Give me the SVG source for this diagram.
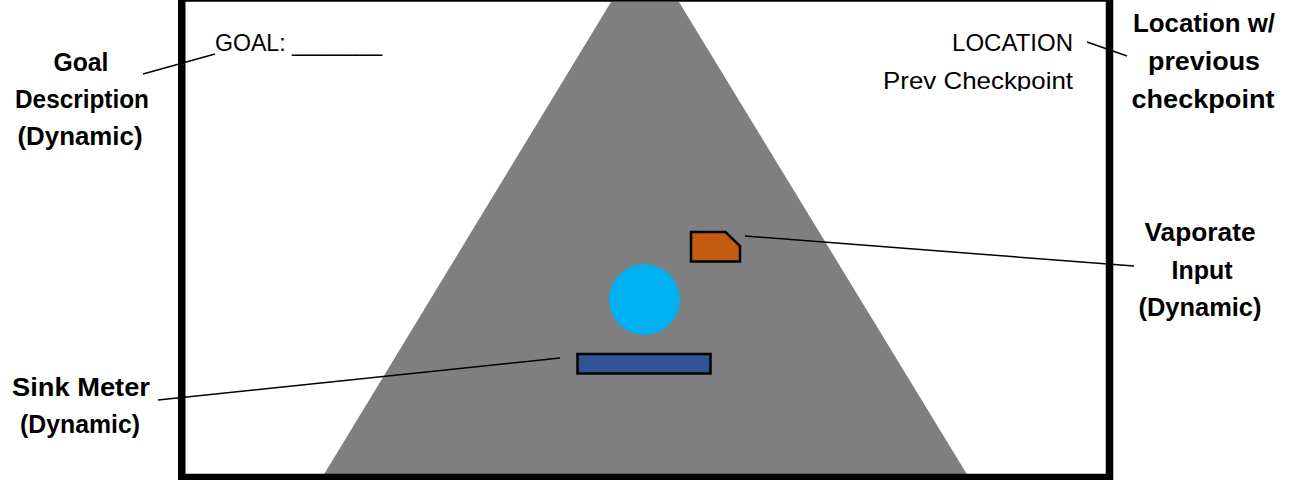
<svg xmlns="http://www.w3.org/2000/svg" width="1294" height="480" viewBox="0 0 1294 480">
  <style>
    .lbl { font-family: "Liberation Sans", Arial, sans-serif; font-weight: bold; font-size: 25px; fill: #000; text-anchor: middle; }
    .hud { font-family: "Liberation Sans", Arial, sans-serif; font-size: 24px; fill: #000; }
    .lead { stroke: #000; stroke-width: 1.5; fill: none; }
    .obj { stroke: #000; stroke-width: 2.5; }
  </style>
  <defs>
    <clipPath id="prevClip"><rect x="870" y="60" width="220" height="31"/></clipPath>
  </defs>
  <rect x="0" y="0" width="1294" height="480" fill="#fff"/>
  <g id="screen">
    <polygon points="611,2 679,2 968,476 323,476" fill="#7f7f7f"/>
    <rect x="181.75" y="-2" width="927.75" height="479.5" fill="none" stroke="#000" stroke-width="7.5"/>
  </g>
  <g id="goal-hud">
    <text class="hud" x="215" y="51" textLength="167" lengthAdjust="spacingAndGlyphs">GOAL: _______</text>
  </g>
  <g id="location-hud">
    <text class="hud" x="1073" y="51" text-anchor="end">LOCATION</text>
    <g clip-path="url(#prevClip)">
      <text class="hud" x="1073" y="89" text-anchor="end" textLength="190" lengthAdjust="spacingAndGlyphs">Prev Checkpoint</text>
    </g>
  </g>
  <g id="player">
    <circle cx="644.5" cy="299.5" r="35.5" fill="#00b0f0"/>
  </g>
  <g id="vaporate-input">
    <path class="obj" d="M691,232 H725.5 L740,246 V261.5 H691 Z" fill="#c55a11"/>
  </g>
  <g id="sink-meter">
    <rect class="obj" x="577.5" y="354" width="133" height="19.5" fill="#2f5597"/>
  </g>
  <g id="connectors">
    <line class="lead" x1="143" y1="74" x2="215" y2="54"/>
    <line class="lead" x1="1087" y1="42" x2="1127" y2="56"/>
    <line class="lead" x1="745" y1="236" x2="1134" y2="266"/>
    <line class="lead" x1="560" y1="358" x2="158" y2="400"/>
  </g>
  <g id="label-goal">
    <text class="lbl" x="81" y="71" textLength="55" lengthAdjust="spacingAndGlyphs">Goal</text>
    <text class="lbl" x="82" y="108" textLength="134" lengthAdjust="spacingAndGlyphs">Description</text>
    <text class="lbl" x="80" y="145" textLength="125" lengthAdjust="spacingAndGlyphs">(Dynamic)</text>
  </g>
  <g id="label-location">
    <text class="lbl" x="1204" y="32" textLength="142" lengthAdjust="spacingAndGlyphs">Location w/</text>
    <text class="lbl" x="1204" y="70" textLength="112" lengthAdjust="spacingAndGlyphs">previous</text>
    <text class="lbl" x="1203" y="108" textLength="143" lengthAdjust="spacingAndGlyphs">checkpoint</text>
  </g>
  <g id="label-vaporate">
    <text class="lbl" x="1200" y="241" textLength="111" lengthAdjust="spacingAndGlyphs">Vaporate</text>
    <text class="lbl" x="1202" y="279" textLength="61" lengthAdjust="spacingAndGlyphs">Input</text>
    <text class="lbl" x="1200" y="316" textLength="123" lengthAdjust="spacingAndGlyphs">(Dynamic)</text>
  </g>
  <g id="label-sink">
    <text class="lbl" x="81" y="396" textLength="138" lengthAdjust="spacingAndGlyphs">Sink Meter</text>
    <text class="lbl" x="80" y="433" textLength="120" lengthAdjust="spacingAndGlyphs">(Dynamic)</text>
  </g>
</svg>
